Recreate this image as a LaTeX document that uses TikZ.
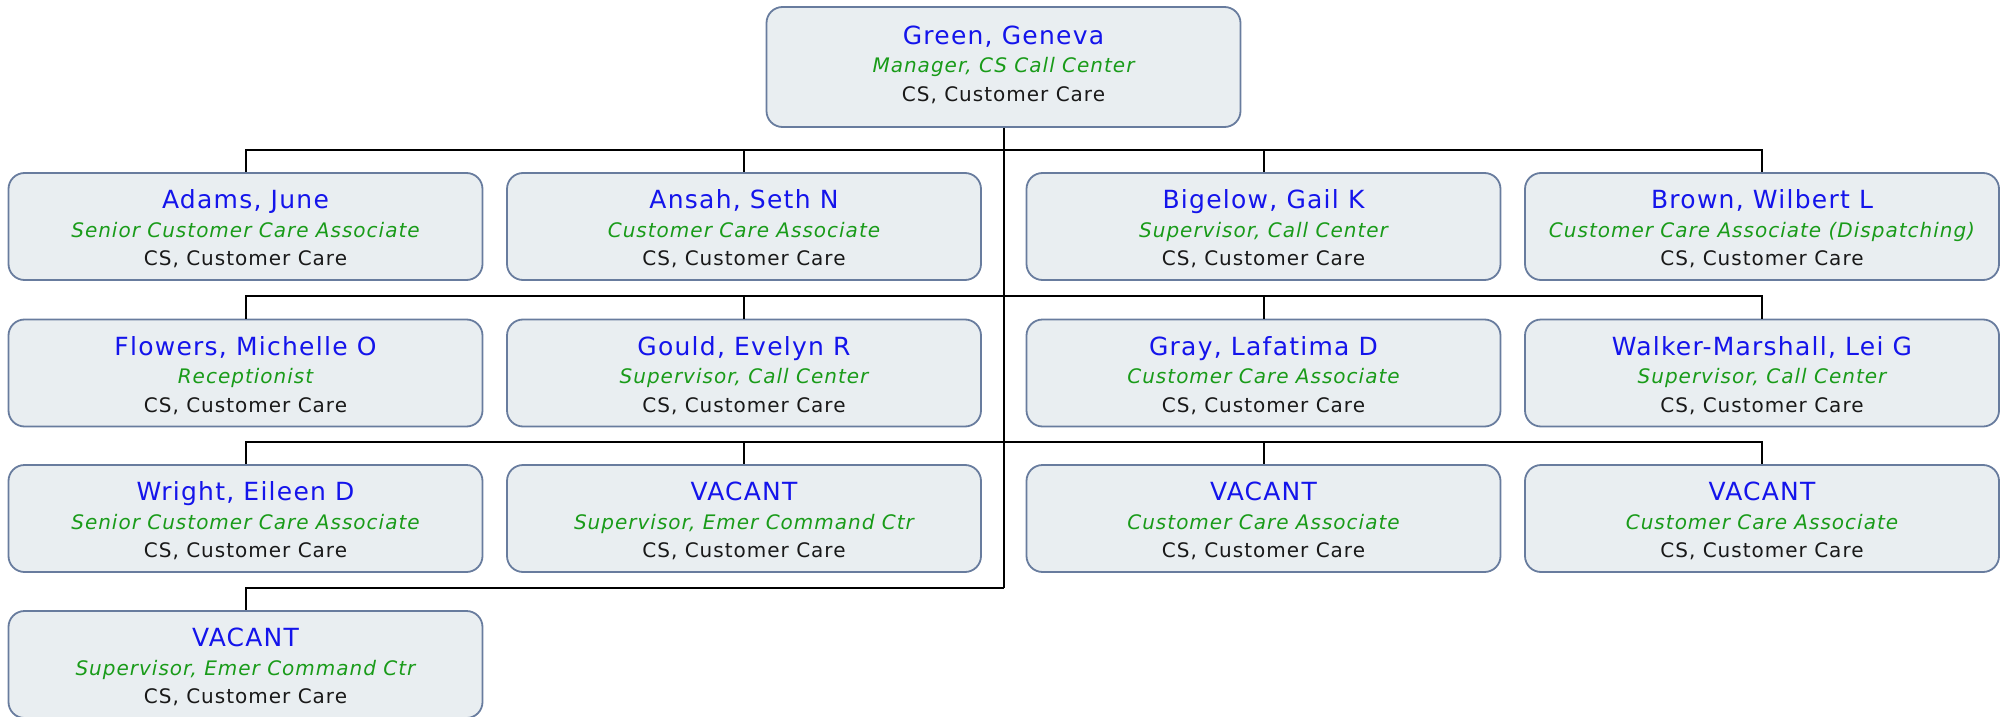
\documentclass[tikz,border=0pt]{standalone}
\usepackage{fontspec}
\newfontfamily\orgfont[LetterSpace=5]{DejaVu Sans}
\usepackage{xcolor}
\usetikzlibrary{positioning}

\definecolor{namecol}{RGB}{20,20,235}
\definecolor{titlecol}{RGB}{25,155,25}
\definecolor{boxfill}{RGB}{233,238,241}
\definecolor{boxline}{RGB}{104,124,158}

% name / job title / department
\newcommand{\emp}[2]{\rule{0pt}{24pt}{\fontsize{25}{28.5}\selectfont\color{namecol}#1}\\{\itshape\color{titlecol}#2}\\CS, Customer Care}

\begin{document}
\begin{tikzpicture}[x={(1pt,0)}, y={(0,-1pt)},
    staff/.style={draw=boxline, line width=1.8pt, fill=boxfill, rounded corners=16pt,
        minimum width=474pt, minimum height=107pt, inner sep=2pt, align=center,
        font=\orgfont\fontsize{20}{28.5}\selectfont, text=black!90},
    link/.style={draw=black, line width=2pt}]
    \useasboundingbox (0,0) rectangle (2011,717);

    % Manager
    \node[staff, minimum height=120pt] (green) at (1003.5,67)
        {\emp{Green, Geneva}{Manager, CS Call Center}\rule[-13pt]{0pt}{13pt}};

    % Row 1
    \node[staff] (adams) at (245.5,226.5) {\emp{Adams, June}{Senior Customer Care Associate}};
    \node[staff] (ansah) at (744,226.5) {\emp{Ansah, Seth N}{Customer Care Associate}};
    \node[staff] (bigelow) at (1263.5,226.5) {\emp{Bigelow, Gail K}{Supervisor, Call Center}};
    \node[staff] (brown) at (1762,226.5) {\emp{Brown, Wilbert L}{Customer Care Associate (Dispatching)}};

    % Row 2
    \node[staff] (flowers) at (245.5,373) {\emp{Flowers, Michelle O}{Receptionist}};
    \node[staff] (gould) at (744,373) {\emp{Gould, Evelyn R}{Supervisor, Call Center}};
    \node[staff] (gray) at (1263.5,373) {\emp{Gray, Lafatima D}{Customer Care Associate}};
    \node[staff] (walker) at (1762,373) {\emp{Walker-Marshall, Lei G}{Supervisor, Call Center}};

    % Row 3
    \node[staff] (wright) at (245.5,518.5) {\emp{Wright, Eileen D}{Senior Customer Care Associate}};
    \node[staff] (vacantA) at (744,518.5) {\emp{VACANT}{Supervisor, Emer Command Ctr}};
    \node[staff] (vacantB) at (1263.5,518.5) {\emp{VACANT}{Customer Care Associate}};
    \node[staff] (vacantC) at (1762,518.5) {\emp{VACANT}{Customer Care Associate}};

    % Row 4
    \node[staff] (vacantD) at (245.5,664.5) {\emp{VACANT}{Supervisor, Emer Command Ctr}};

    % Bus junctions on the trunk
    \coordinate (busA) at (1003.5,150);
    \coordinate (busB) at (1003.5,296);
    \coordinate (busC) at (1003.5,442);
    \coordinate (busD) at (1003.5,588);

    % Trunk
    \draw[link] (green.south) -- (busD);

    % Branches
    \draw[link] (busA) -| (adams.north);
    \draw[link] (busA) -| (ansah.north);
    \draw[link] (busA) -| (bigelow.north);
    \draw[link] (busA) -| (brown.north);
    \draw[link] (busB) -| (flowers.north);
    \draw[link] (busB) -| (gould.north);
    \draw[link] (busB) -| (gray.north);
    \draw[link] (busB) -| (walker.north);
    \draw[link] (busC) -| (wright.north);
    \draw[link] (busC) -| (vacantA.north);
    \draw[link] (busC) -| (vacantB.north);
    \draw[link] (busC) -| (vacantC.north);
    \draw[link] (busD) -| (vacantD.north);
\end{tikzpicture}
\end{document}
